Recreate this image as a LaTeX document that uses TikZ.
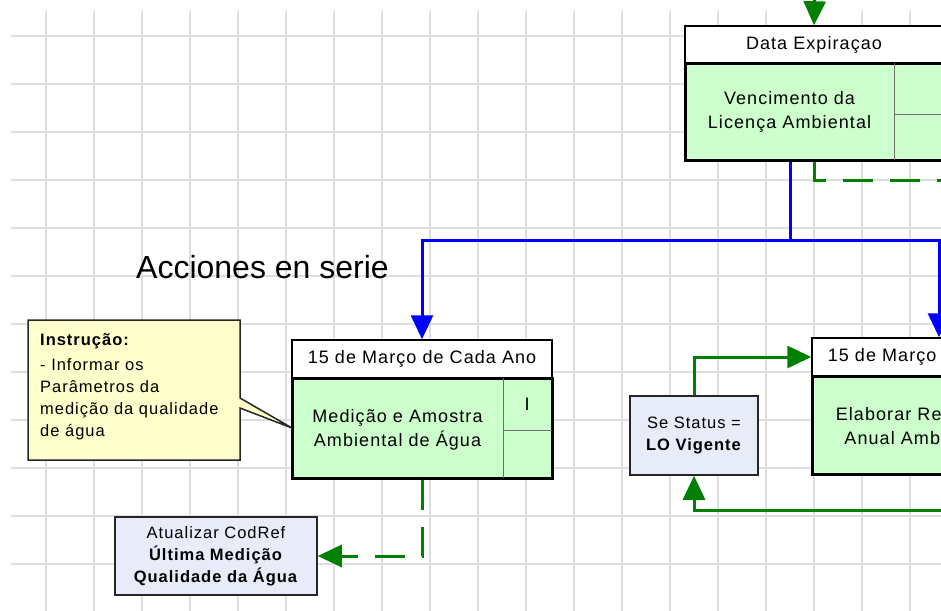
\documentclass[tikz,border=0pt]{standalone}
\usepackage{fontspec}
\setmainfont{Liberation Sans}
\newfontfamily\bxf[LetterSpace=6]{Liberation Sans}
\usetikzlibrary{arrows.meta}
\definecolor{gridc}{RGB}{222,222,222}
\definecolor{bodyg}{RGB}{204,255,204}
\definecolor{noteyel}{RGB}{255,255,204}
\definecolor{lblue}{RGB}{232,236,248}
\definecolor{lineg}{RGB}{0,128,0}
\definecolor{divc}{RGB}{110,110,110}
\begin{document}
\begin{tikzpicture}[x=1pt,y=-1pt,
  hdr/.style={draw=black,line width=1.5pt,fill=white,inner sep=0pt,
    font=\bxf\fontsize{18}{24}\selectfont},
  body/.style={draw=black,line width=3pt,fill=bodyg,inner sep=0pt},
  btext/.style={align=center,inner sep=0pt,font=\bxf\fontsize{18}{24.5}\selectfont},
  infobox/.style={draw=black!85,line width=1.5pt,fill=lblue,inner sep=0pt,align=center,
    font=\bxf\fontsize{16.5}{22}\selectfont},
  divline/.style={draw=divc,line width=1pt},
  bline/.style={draw=blue,line width=3pt},
  gline/.style={draw=lineg,line width=3pt},
  gdash/.style={draw=lineg,line width=3pt,dash pattern=on 30pt off 17pt},
  tipb/.style={-{Triangle[length=24pt,width=22pt]}},
]
\useasboundingbox (0,0) rectangle (941,610);
\clip (0,0) rectangle (941,610);
% grid
\foreach \i in {0,...,18} \draw[gridc,line width=1.5pt] (46+48*\i,11) -- (46+48*\i,612);
\foreach \j in {0,...,11} \draw[gridc,line width=1.5pt] (11,36+48*\j) -- (945,36+48*\j);

% top box
\node[hdr,minimum width=258pt,minimum height=37pt] (th) at (814,44.5) {Data Expiraçao};
\node[body,minimum width=258pt,minimum height=97pt] (tb) at (814,111.5) {};
\draw[divline] (894,63) -- (894,160) (894,114) -- (943,114);
\node[btext] (tbt) at (789.5,112) {Vencimento da\\Licença Ambiental};

% middle box
\node[hdr,minimum width=260pt,minimum height=38pt] (mh) at (422,359) {15 de Março de Cada Ano};
\node[body,minimum width=260pt,minimum height=100pt] (mb) at (422,428) {};
\draw[divline] (503,378) -- (503,478) (503,430) -- (552,430);
\node[btext] (mbt) at (397.5,430) {Medição e Amostra\\Ambiental de Água};
\node[btext,font=\bxf\fontsize{18}{24}\selectfont] (mbi) at (527,404) {I};

% right box
\node[hdr,minimum width=260pt,minimum height=38pt] (rh) at (942,357) {15 de Março de Cada Ano};
\node[body,minimum width=260pt,minimum height=98pt] (rb) at (942,425) {};
\node[btext] (rbt) at (917,426) {Elaborar Relatório\\Anual Ambiental};

% info boxes
\node[infobox,minimum width=128pt,minimum height=79pt] (ss) at (694,435.5)
  {Se Status =\\\textbf{LO Vigente}};
\node[infobox,minimum width=202pt,minimum height=78pt] (at) at (216,556)
  {Atualizar CodRef\\\textbf{Última Medição}\\\textbf{Qualidade da Água}};

% callout
\draw[draw=black!85,line width=1.5pt,fill=noteyel,line join=miter]
  (28,320) -- (240,320) -- (240,398) -- (292,428) -- (240,408) -- (240,460) -- (28,460) -- cycle;
\node[anchor=north west,align=left,inner sep=0pt,font=\bxf\fontsize{16.5}{22}\selectfont] (note) at (40,333)
  {\textbf{Instrução:}\\[3pt]- Informar os\\Parâmetros da\\medição da qualidade\\de água};

% title
\node[anchor=base west,inner sep=0pt,font=\fontsize{32}{38}\selectfont] (title) at (136,278) {Acciones en serie};

% connectors
\coordinate (topin) at (815,-10);
\coordinate (bj) at (790,240);
\coordinate (gd) at (990,180);
\coordinate (gb) at (990,510);
\draw[gline,tipb] (topin) -- (th.north);
\draw[bline] (tb.south -| bj) -- (bj);
\draw[bline,tipb] (bj) -| (mh.north);
\draw[bline,tipb] (bj) -| ([xshift=-3pt]rh.north);
\draw[gdash] (tb.south) |- (gd);
\draw[gdash,tipb] (mb.south) |- (at.east);
\draw[gline,tipb] (ss.north) |- (rh.west);
\draw[gline,tipb] (gb) -| (ss.south);
\end{tikzpicture}
\end{document}
